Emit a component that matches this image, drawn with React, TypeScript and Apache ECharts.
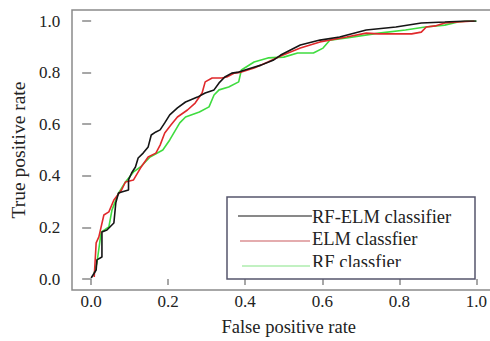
import React, { useEffect, useRef } from "react";
import * as echarts from "echarts";

const xTicks = [0, 0.2, 0.4, 0.6, 0.8, 1.0];
const seriesNames = ["RF-ELM classifier", "ELM classfier", "RF classfier"];
const legendLabels = ["RF-ELM classifier", "ELM classfier", "RF classfier"];

const rfElm: [number, number][] = [
  [0.0, 0.004], [0.013, 0.035], [0.015, 0.074], [0.028, 0.085], [0.028, 0.182],
  [0.041, 0.19], [0.059, 0.217], [0.064, 0.295], [0.071, 0.333], [0.079, 0.337],
  [0.097, 0.345], [0.097, 0.384], [0.105, 0.411], [0.115, 0.434], [0.122, 0.469],
  [0.135, 0.488], [0.148, 0.512], [0.156, 0.558], [0.168, 0.57], [0.179, 0.578],
  [0.191, 0.605], [0.204, 0.636], [0.224, 0.663], [0.245, 0.686], [0.276, 0.705],
  [0.296, 0.721], [0.319, 0.733], [0.332, 0.76], [0.347, 0.783], [0.365, 0.798],
  [0.383, 0.802], [0.416, 0.818], [0.441, 0.829], [0.474, 0.849], [0.492, 0.868],
  [0.543, 0.907], [0.594, 0.926], [0.645, 0.938], [0.714, 0.965], [0.791, 0.977],
  [0.857, 0.992], [0.918, 0.996], [0.969, 1.0], [1.0, 1.0],
];

const elm: [number, number][] = [
  [0.008, 0.008], [0.013, 0.14], [0.02, 0.163], [0.033, 0.248], [0.046, 0.26],
  [0.059, 0.306], [0.079, 0.345], [0.089, 0.376], [0.11, 0.384], [0.128, 0.43],
  [0.148, 0.473], [0.168, 0.488], [0.179, 0.519], [0.191, 0.566], [0.207, 0.597],
  [0.224, 0.628], [0.25, 0.655], [0.27, 0.682], [0.288, 0.721], [0.296, 0.764],
  [0.314, 0.779], [0.339, 0.779], [0.352, 0.783], [0.372, 0.798], [0.39, 0.802],
  [0.423, 0.818], [0.459, 0.841], [0.492, 0.864], [0.543, 0.895], [0.594, 0.919],
  [0.663, 0.938], [0.714, 0.953], [0.747, 0.95], [0.832, 0.95], [0.857, 0.957],
  [0.87, 0.977], [0.893, 0.981], [0.918, 0.992], [0.952, 0.996], [0.995, 1.0],
];

const rf: [number, number][] = [
  [0.008, 0.023], [0.015, 0.062], [0.026, 0.182], [0.046, 0.202], [0.054, 0.267],
  [0.071, 0.333], [0.089, 0.376], [0.11, 0.415], [0.128, 0.434], [0.153, 0.473],
  [0.186, 0.5], [0.204, 0.539], [0.23, 0.605], [0.245, 0.628], [0.281, 0.647],
  [0.306, 0.667], [0.319, 0.713], [0.332, 0.733], [0.357, 0.744], [0.383, 0.764],
  [0.39, 0.81], [0.423, 0.841], [0.459, 0.857], [0.5, 0.86], [0.536, 0.876],
  [0.577, 0.876], [0.602, 0.895], [0.62, 0.926], [0.663, 0.934], [0.747, 0.953],
  [0.816, 0.965], [0.867, 0.977], [0.918, 0.984], [0.952, 0.996], [0.977, 1.0],
  [1.0, 1.0],
];

const colors = ["#151515", "#e0292b", "#3fdc3f"];
const legendColors = ["#151515", "#c95a5e", "#86e486"];
const FONT = "Liberation Serif";

export default function App() {
  const ref = useRef<HTMLDivElement>(null);
  useEffect(() => {
    if (!ref.current) return;
    const chart = echarts.init(ref.current, null, { renderer: "svg" });
    const lineY = [216, 241, 266];
    const textY = [217, 239, 262];
    const legendLineX = [[238, 312], [240, 310], [242, 310]];
    chart.setOption({
      animation: false,
      backgroundColor: "#ffffff",
      textStyle: { fontFamily: FONT },
      grid: { left: 87, right: 11, top: 21, bottom: 62, containLabel: false },
      xAxis: {
        type: "value",
        min: 0,
        max: 1,
        interval: 0.2,
        offset: 11,
        axisLine: { show: false },
        axisTick: { show: true, length: 6, lineStyle: { color: "#8a8a8a", width: 1.5 } },
        splitLine: { show: false },
        axisLabel: {
          margin: 3,
          color: "#222",
          fontFamily: FONT,
          fontSize: 17,
          formatter: (v: number) => (xTicks.includes(Math.round(v * 10) / 10) ? v.toFixed(1) : ""),
        },
        name: "False positive rate",
        nameLocation: "middle",
        nameGap: 27,
        nameTextStyle: { color: "#222", fontFamily: FONT, fontSize: 18.5, padding: [0, 0, 0, 10] },
      },
      yAxis: {
        type: "value",
        min: 0,
        max: 1,
        interval: 0.2,
        offset: 15,
        axisLine: { show: false },
        axisTick: { show: true, length: 9, lineStyle: { color: "#8a8a8a", width: 1.5 } },
        splitLine: { show: false },
        axisLabel: {
          margin: 16,
          color: "#222",
          fontFamily: FONT,
          fontSize: 17,
          formatter: (v: number) => v.toFixed(1),
        },
        name: "True positive rate",
        nameLocation: "middle",
        nameGap: 45,
        nameTextStyle: { color: "#222", fontFamily: FONT, fontSize: 19.5 },
      },
      series: [rfElm, elm, rf].map((d, i) => ({
        name: seriesNames[i],
        type: "line",
        data: d,
        showSymbol: false,
        z: 3 - i,
        lineStyle: { color: colors[i], width: 1.6 },
        itemStyle: { color: colors[i] },
      })),
      graphic: [
        {
          type: "polyline",
          silent: true,
          shape: { points: [[492, 10], [72, 10], [72, 290], [492, 290]] },
          style: { stroke: "#8a8a8a", lineWidth: 1.5, fill: null },
          z: 10,
        },
        {
          type: "rect",
          silent: true,
          shape: { x: 227, y: 197, width: 248, height: 82 },
          style: { stroke: "#56566c", lineWidth: 1.5, fill: "#ffffff" },
          z: 20,
        },
        ...legendLabels.map((t, i) => ({
          type: "line",
          silent: true,
          shape: { x1: legendLineX[i][0], y1: lineY[i], x2: legendLineX[i][1], y2: lineY[i] },
          style: { stroke: legendColors[i], lineWidth: 1.2 },
          z: 21,
        })),
        ...legendLabels.map((t, i) => ({
          type: "text",
          silent: true,
          x: 312,
          y: textY[i],
          style: {
            text: t,
            fill: "#222",
            fontFamily: FONT,
            fontSize: 18.5,
            textAlign: "left",
            textVerticalAlign: "middle",
          },
          z: 22,
        })),
        {
          type: "rect",
          silent: true,
          shape: { x: 312, y: 267, width: 160, height: 11 },
          style: { fill: "#ffffff", stroke: null },
          z: 23,
        },
      ],
    });
    return () => chart.dispose();
  }, []);
  return (
    <div
      ref={ref}
      style={{ position: "absolute", left: 0, top: 0, width: 490, height: 341 }}
    />
  );
}
